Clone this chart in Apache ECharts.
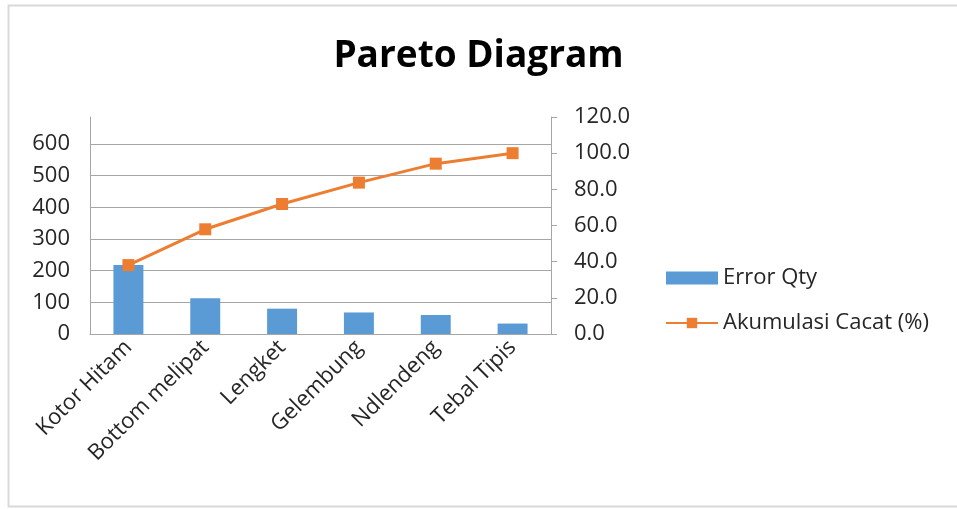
<!DOCTYPE html>
<html>
<head>
<meta charset="utf-8">
<script src="https://cdn.jsdelivr.net/npm/echarts@6/dist/echarts.min.js"></script>
<style>
html,body{margin:0;padding:0;background:#fff;}
#chart{width:957px;height:509px;}
</style>
</head>
<body>
<div id="chart"></div>
<script>
const categories = ['Kotor Hitam', 'Bottom melipat', 'Lengket', 'Gelembung', 'Ndlendeng', 'Tebal Tipis'];
const errorQty = [218, 113, 80, 68, 60, 33];
const akumulasi = [38.1, 57.9, 71.9, 83.7, 94.2, 100.0];
const leftTicks = [0, 100, 200, 300, 400, 500, 600];
const rightTicks = [0, 20, 40, 60, 80, 100, 120];

const FONT = 'Open Sans';
const chart = echarts.init(document.getElementById('chart'), null, {renderer: 'canvas'});
chart.setOption({
  backgroundColor: '#ffffff',
  animation: false,
  title: {
    text: 'Pareto Diagram',
    left: 'center',
    top: 33,
    textStyle: {fontFamily: FONT, fontWeight: 'bold', fontSize: 37, color: '#000'}
  },
  graphic: [{
    type: 'rect',
    shape: {x: 8.5, y: 5.5, width: 1000, height: 501},
    style: {fill: 'none', stroke: '#d9d9d9', lineWidth: 2}
  }],
  legend: {
    orient: 'vertical',
    left: 660,
    top: 262,
    itemWidth: 52,
    itemHeight: 13,
    itemGap: 23,
    textStyle: {fontFamily: FONT, fontSize: 22, color: '#262626'},
    data: [
      {name: 'Error Qty', icon: 'rect'},
      {name: 'Akumulasi Cacat (%)'}
    ]
  },
  grid: {left: 90, right: 406, top: 117, bottom: 175, containLabel: false},
  xAxis: {
    type: 'category',
    data: categories,
    axisLine: {lineStyle: {color: '#a6a6a6', width: 1}},
    axisTick: {show: false},
    axisLabel: {rotate: 45, fontFamily: FONT, fontSize: 22, color: '#262626', margin: 10, interval: 0}
  },
  yAxis: [{
    type: 'value',
    min: 0,
    max: 685,
    interval: 100,
    axisLine: {show: true, lineStyle: {color: '#a6a6a6'}},
    axisTick: {show: false},
    splitLine: {lineStyle: {color: ['#a6a6a6','#a6a6a6','#a6a6a6','#a6a6a6','#a6a6a6','#a6a6a6','#a6a6a6','rgba(0,0,0,0)']}},
    axisLabel: {
      fontFamily: FONT, fontSize: 22, color: '#262626', margin: 20,
      formatter: v => leftTicks.includes(v) ? String(v) : ''
    }
  }, {
    type: 'value',
    min: 0,
    max: 120,
    interval: 20,
    position: 'right',
    axisLine: {show: true, lineStyle: {color: '#a6a6a6'}},
    axisTick: {show: true, length: 6, lineStyle: {color: '#a6a6a6'}},
    splitLine: {show: false},
    axisLabel: {
      fontFamily: FONT, fontSize: 22, color: '#262626', margin: 23,
      formatter: v => rightTicks.includes(v) ? v.toFixed(1) : ''
    }
  }],
  series: [{
    name: 'Error Qty',
    type: 'bar',
    data: errorQty,
    barWidth: '39%',
    itemStyle: {color: '#5b9bd5'},
    yAxisIndex: 0
  }, {
    name: 'Akumulasi Cacat (%)',
    type: 'line',
    data: akumulasi,
    yAxisIndex: 1,
    symbol: 'rect',
    symbolSize: 12,
    lineStyle: {color: '#ed7d31', width: 3},
    itemStyle: {color: '#ed7d31'}
  }]
});
</script>
</body>
</html>
